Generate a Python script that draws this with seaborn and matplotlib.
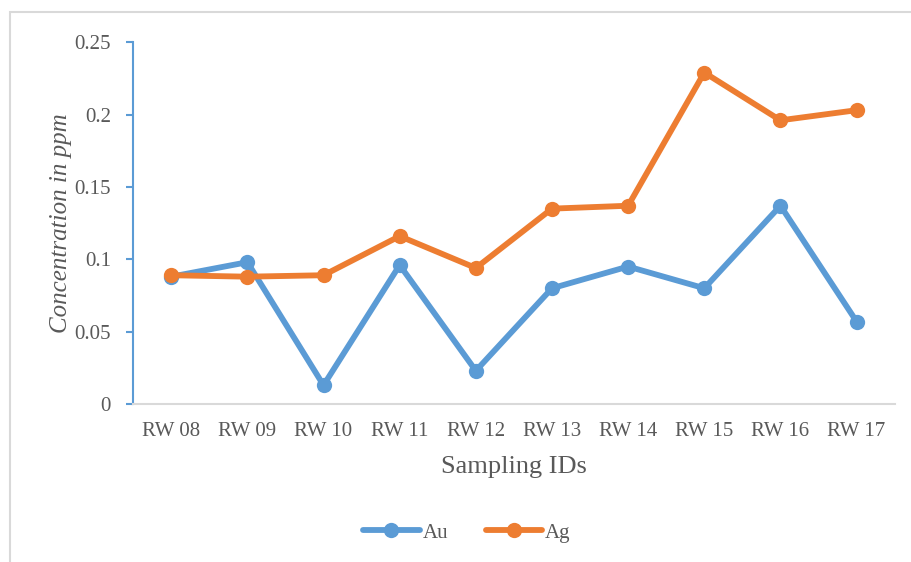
import numpy as np
import pandas as pd
import seaborn as sns
import matplotlib.pyplot as plt
from matplotlib.patches import Rectangle

samples = ["RW 08", "RW 09", "RW 10", "RW 11", "RW 12",
           "RW 13", "RW 14", "RW 15", "RW 16", "RW 17"]
au = [0.088, 0.098, 0.013, 0.096, 0.023, 0.080, 0.095, 0.080, 0.137, 0.057]
ag = [0.089, 0.088, 0.089, 0.116, 0.094, 0.135, 0.137, 0.229, 0.196, 0.203]
yticks = [0, 0.05, 0.1, 0.15, 0.2, 0.25]
ytick_labels = ["0", "0.05", "0.1", "0.15", "0.2", "0.25"]

df = pd.DataFrame({
    "sample": samples * 2,
    "value": au + ag,
    "element": ["Au"] * len(au) + ["Ag"] * len(ag),
})

sns.set_style("white")
plt.rcParams['font.family'] = ['Liberation Serif', 'DejaVu Serif']
txt = '#595959'

fig = plt.figure(figsize=(9.12, 5.62), dpi=100)
ax = fig.add_axes([0.146, 0.281, 0.835, 0.644])

g = sns.lineplot(data=df, x="sample", y="value", hue="element", sort=False,
                 palette={"Au": "#5B9BD5", "Ag": "#ED7D31"}, marker="o",
                 linewidth=4.2, markersize=11, markeredgewidth=0, ax=ax)

ax.set_xlim(-0.5, len(samples) - 0.5)
ax.set_ylim(0, 0.25)
ax.set_yticks(yticks)
ax.set_yticklabels(ytick_labels)
ax.tick_params(axis='y', length=5, width=1.5, color='#5B9BD5', pad=11,
               labelsize=15, labelcolor=txt, left=True)
ax.tick_params(axis='x', length=0, pad=13, labelsize=15, labelcolor=txt)

for s in ['top', 'right']:
    ax.spines[s].set_visible(False)
ax.spines['left'].set_color('#5B9BD5')
ax.spines['left'].set_linewidth(1.5)
ax.spines['bottom'].set_color('#D9D9D9')
ax.spines['bottom'].set_linewidth(1.5)

ax.set_xlabel("Sampling IDs", fontsize=19, color=txt, labelpad=11)
ax.set_ylabel("Concentration in ppm", fontsize=18, color=txt,
              style='italic', labelpad=2)

handles, labels = ax.get_legend_handles_labels()
ax.get_legend().remove()
fig.legend(handles, labels, loc='center', bbox_to_anchor=(0.512, 0.052),
           ncol=2, frameon=False, fontsize=15, handlelength=2.7,
           columnspacing=1.8, handletextpad=0.15, labelcolor=txt)

# chart area border
fig.patches.append(Rectangle((10 / 912, -0.1), 1.2, 1 - 12 / 562 + 0.1,
                             transform=fig.transFigure, fill=False,
                             edgecolor='#D9D9D9', linewidth=1.5))

fig.savefig("out.png", dpi=100)
